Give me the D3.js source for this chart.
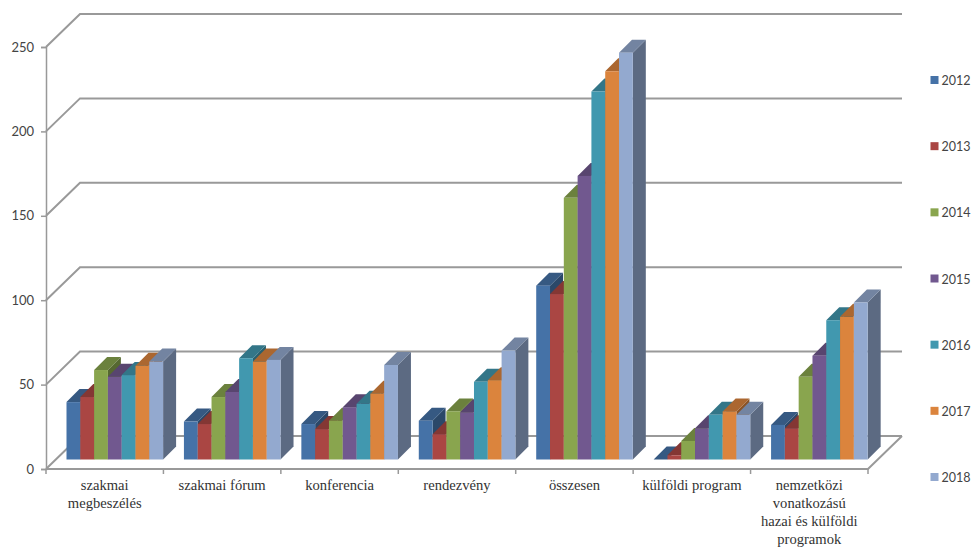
<!DOCTYPE html>
<html>
<head>
<meta charset="utf-8">
<script src="https://cdn.jsdelivr.net/npm/d3@7"></script>
<style>
  html, body { margin: 0; padding: 0; background: #fff; }
  svg { display: block; }
</style>
</head>
<body>
<script>
var categories = [
  ["szakmai", "megbeszélés"],
  ["szakmai fórum"],
  ["konferencia"],
  ["rendezvény"],
  ["összesen"],
  ["külföldi program"],
  ["nemzetközi", "vonatkozású", "hazai és külföldi", "programok"]
];
var years = ["2012", "2013", "2014", "2015", "2016", "2017", "2018"];
var colors = ["#4572A7", "#AA4643", "#89A54E", "#71588F", "#4198AF", "#DB843D", "#93A9CF"];

var v2012 = [34, 22.5, 21, 23, 103, 0, 20.5];
var v2013 = [37, 21, 18, 15, 98, 2.5, 18.5];
var v2014 = [53, 37, 23, 28.5, 155, 11, 49];
var v2015 = [49, 40, 31, 28, 168, 18.5, 61.5];
var v2016 = [50, 60, 33, 46, 218, 26.5, 82.5];
var v2017 = [55.5, 58, 39, 47, 230, 28.5, 84.5];
var v2018 = [58, 59, 56, 64.5, 241, 26.5, 93];
var series = [v2012, v2013, v2014, v2015, v2016, v2017, v2018];

var yTicks = [0, 50, 100, 150, 200, 250];

var width = 971, height = 547;
var left = 46, right = 868, bottom = 469;
var wallDx = 34, wallDy = 33;   // depth of the floor / side wall
var depth = 13;                 // depth of one bar
var barInset = 20.5, groupWidth = 96.6;
var barBase = 459.5;
var gridColor = "#999";

var svg = d3.select("body").append("svg")
  .attr("width", width)
  .attr("height", height);

var x = d3.scaleBand().domain(d3.range(categories.length)).range([left, right]);
var xInner = d3.scaleBand().domain(years).range([0, groupWidth]);
// front plane of the axis
var y = d3.scaleLinear().domain([0, 250]).range([bottom, bottom - 422]);
// height of a bar, same units as the axis
var barH = d3.scaleLinear().domain([0, 250]).range([0, 422]);

// back wall and side wall lines
var walls = svg.append("g").attr("fill", "none").attr("stroke", gridColor).attr("stroke-width", 2);
yTicks.forEach(function(t) {
  walls.append("path")
    .attr("d", d3.line()([[left, y(t)], [left + wallDx, y(t) - wallDy], [right + wallDx, y(t) - wallDy]]));
});
walls.append("path")
  .attr("d", d3.line()([[left, bottom], [right, bottom], [right + wallDx, bottom - wallDy]]));

// bars, left to right so each one covers the side of the previous
var bars = svg.append("g");
categories.forEach(function(c, i) {
  years.forEach(function(yr, j) {
    var x0 = x(i) + barInset + xInner(yr);
    var w = xInner.bandwidth();
    var top = barBase - barH(series[j][i]);
    var col = d3.rgb(colors[j]);
    var g = bars.append("g");
    g.append("path")
      .attr("fill", col.darker(1.3))
      .attr("d", d3.line()([[x0 + w, top], [x0 + w + depth, top - depth], [x0 + w + depth, barBase - depth], [x0 + w, barBase]]) + "Z");
    g.append("path")
      .attr("fill", col.darker(0.7))
      .attr("d", d3.line()([[x0, top], [x0 + depth, top - depth], [x0 + w + depth, top - depth], [x0 + w, top]]) + "Z");
    g.append("rect")
      .attr("x", x0)
      .attr("y", top)
      .attr("width", w)
      .attr("height", barBase - top)
      .attr("fill", col);
  });
});

// y axis
var yAxis = svg.append("g")
  .attr("transform", "translate(" + left + ",0)")
  .call(d3.axisLeft(y).tickValues(yTicks).tickSize(5).tickPadding(7));
yAxis.selectAll("path, line").attr("stroke", gridColor).attr("stroke-width", 1.5);
yAxis.selectAll("text")
  .attr("fill", "#444")
  .style("font-family", "Lato, sans-serif")
  .style("font-size", "13px");

// x axis ticks at the edges of the groups
svg.append("g").selectAll("line")
  .data(d3.range(categories.length + 1))
  .join("line")
  .attr("x1", function(d) { return left + d * x.step(); })
  .attr("x2", function(d) { return left + d * x.step(); })
  .attr("y1", bottom)
  .attr("y2", bottom + 5)
  .attr("stroke", gridColor)
  .attr("stroke-width", 1.5);

// category labels
var labels = svg.append("g")
  .attr("text-anchor", "middle")
  .attr("fill", "#333")
  .style("font-family", "'Liberation Serif', serif")
  .style("font-size", "14.6px");
categories.forEach(function(lines, i) {
  var t = labels.append("text");
  lines.forEach(function(line, k) {
    t.append("tspan")
      .attr("x", x(i) + x.bandwidth() / 2)
      .attr("y", 489.5 + k * 18)
      .text(line);
  });
});

// legend
var legendY = d3.scalePoint().domain(years).range([80, 477]);
var legend = svg.append("g").selectAll("g")
  .data(years)
  .join("g")
  .attr("transform", function(d) { return "translate(930.5," + legendY(d) + ")"; });
legend.append("rect")
  .attr("x", 0)
  .attr("y", -4)
  .attr("width", 8)
  .attr("height", 8)
  .attr("fill", function(d, i) { return colors[i]; });
legend.append("text")
  .attr("x", 11)
  .attr("y", 5)
  .attr("fill", "#444")
  .style("font-family", "Lato, sans-serif")
  .style("font-size", "12.5px")
  .text(function(d) { return d; });
</script>
</body>
</html>
